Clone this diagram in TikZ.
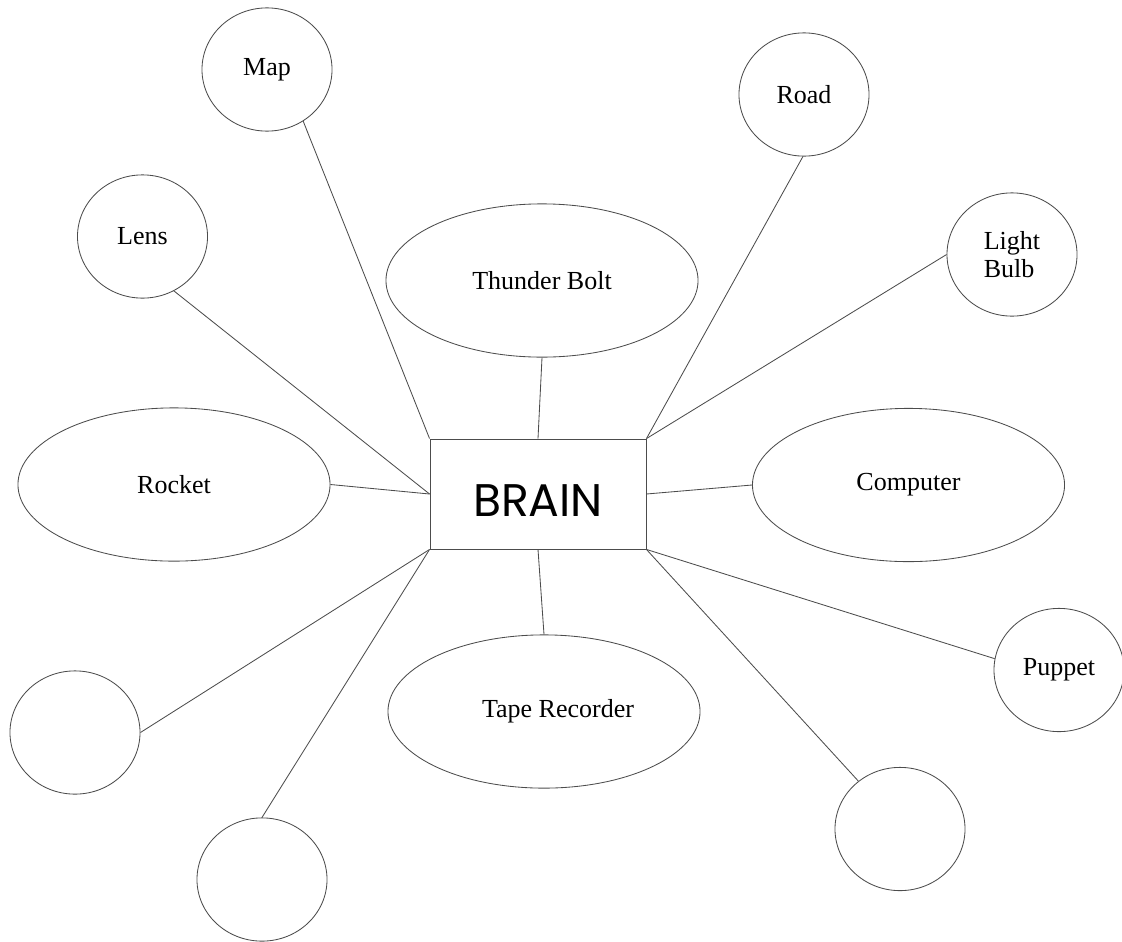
\documentclass[tikz,border=0pt]{standalone}
\usepackage{fontspec}
\setmainfont{Liberation Serif}
\newfontfamily\brainfont{Poppins}
\usetikzlibrary{shapes.geometric}

\begin{document}
\begin{tikzpicture}[x=0.025cm,y=-0.025cm,
	idea/.style={draw=black!70,line width=0.6pt,ellipse,inner sep=0pt,font=\fontsize{18.5}{20}\selectfont},
	big/.style={idea,minimum width=7.8cm,minimum height=3.83cm},
	small/.style={idea,minimum width=3.25cm,minimum height=3.08cm},
	link/.style={draw=black!70,line width=0.6pt}]
	\useasboundingbox (0,0) rectangle (1122,941);
	\node[draw=black!70,line width=0.6pt,minimum width=5.4cm,minimum height=2.75cm,text height=1.12cm,text depth=0pt,font=\brainfont\fontsize{32.5}{36}\selectfont] (brain) at (538,494) {BRAIN};
	\node[small] (map) at (267,69.5) {Map};
	\node[small] (lens) at (142.5,236.5) {Lens};
	\node[small] (road) at (804,94.5) {Road};
	\node[small,align=left] (bulb) at (1012,254.5) {Light\\Bulb};
	\node[small] (puppet) at (1059,670) {Puppet};
	\node[big] (bolt) at (542,280.5) {Thunder Bolt};
	\node[big] (rocket) at (174,484.5) {Rocket};
	\node[big] (computer) at (908.5,485) {Computer};
	\node[big] (tape) at (544,711.5) {\hspace*{0.7cm}Tape Recorder};
	\node[small] (blank1) at (75,732.5) {};
	\node[small] (blank2) at (262,879.5) {};
	\node[small] (blank3) at (900,829) {};
	\draw[link] (map.305) -- (brain.north west);
	\draw[link] (lens.300) -- (brain.west);
	\draw[link] (rocket.east) -- (brain.west);
	\draw[link] (bolt.south) -- (brain.north);
	\draw[link] (road.269) -- (brain.north east);
	\draw[link] (bulb.west) -- (brain.north east);
	\draw[link] (computer.west) -- (brain.east);
	\draw[link] (puppet.170) -- (brain.south east);
	\draw[link] (blank3.131) -- (brain.south east);
	\draw[link] (tape.north) -- (brain.south);
	\draw[link] (blank1.east) -- (brain.south west);
	\draw[link] (blank2.north) -- (brain.south west);
\end{tikzpicture}
\end{document}
